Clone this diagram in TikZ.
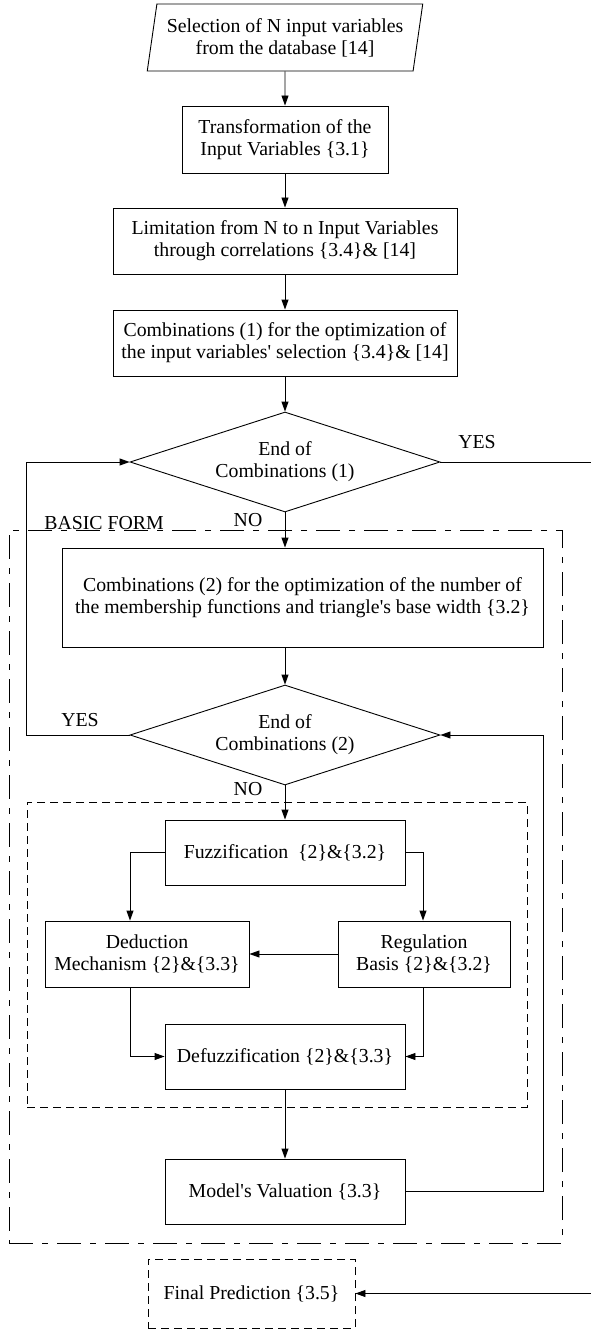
\documentclass[tikz,border=0pt]{standalone}
\usepackage{fontspec}
\setmainfont{Liberation Serif}
\usetikzlibrary{shapes.geometric,arrows.meta}

\begin{document}
\begin{tikzpicture}[x=1pt, y=-1pt, line width=0.9pt, >={Triangle[length=10pt,width=7pt]},
            every node/.style={font=\fontsize{19.8}{22}\selectfont},
            box/.style={rectangle, draw, align=center, inner sep=2pt},
            inbox/.style={trapezium, draw, align=center, trapezium left angle=78, trapezium right angle=102, trapezium stretches=true, inner sep=2pt},
            ask/.style={diamond, draw, align=center, aspect=3.1, minimum width=310, minimum height=100, inner sep=0pt},
            outbox/.style={rectangle, draw, align=center, dashed, dash pattern=on 8pt off 5pt},
            frameA/.style={rectangle, draw, dash pattern=on 24pt off 9pt on 6pt off 9pt, inner sep=0pt},
            frameB/.style={rectangle, draw, dash pattern=on 8pt off 5pt, inner sep=0pt}]

            \useasboundingbox (0,0) rectangle (591,1332);

            % frames
            \node[frameA, minimum width=553, minimum height=713] (basic) at (285.5,886.5) {};
            \node[frameB, minimum width=500, minimum height=305] (fuzzy) at (277,954.5) {};
            \node[anchor=base] (basiclbl) at (104,529) {BASIC FORM};

            \node[inbox, minimum width=276, minimum height=67] (sel) at (285,37.5) {Selection of N input variables\\from the database [14]};
            \node[box, minimum width=206, minimum height=67] (trans) at (285,139.5) {Transformation of the\\Input Variables \{3.1\}};
            \node[box, minimum width=344, minimum height=66] (lim) at (285,241) {Limitation from N to n Input Variables\\through correlations \{3.4\}\& [14]};
            \node[box, minimum width=344, minimum height=66] (comb1) at (285,343) {Combinations (1) for the optimization of\\the input variables\textquotesingle{} selection \{3.4\}\& [14]};
            \node[ask] (end1) at (285,462) {End of\\Combinations (1)};
            \node[box, minimum width=481, minimum height=99] (comb2) at (302.5,597.5) {Combinations (2) for the optimization of the number of\\the membership functions and triangle\textquotesingle{}s base width \{3.2\}};
            \node[ask] (end2) at (285,735) {End of\\Combinations (2)};
            \node[box, minimum width=240, minimum height=65] (fuzz) at (285,852.5) {Fuzzification\ \ \{2\}\&\{3.2\}};
            \node[box, minimum width=204, minimum height=66] (deduc) at (147,954) {Deduction\\Mechanism \{2\}\&\{3.3\}};
            \node[box, minimum width=172, minimum height=66] (regul) at (424,954) {Regulation\\Basis \{2\}\&\{3.2\}};
            \node[box, minimum width=240, minimum height=65] (defuz) at (285,1056.5) {Defuzzification \{2\}\&\{3.3\}};
            \node[box, minimum width=240, minimum height=65] (valid) at (285,1191.5) {Model\textquotesingle{}s Valuation \{3.3\}};
            \node[outbox, minimum width=207, minimum height=69] (final) at (251.5,1293.5) {Final Prediction \{3.5\}};

            \node (yes1) at (477,442) {YES};
            \node (no1) at (248,520) {NO};
            \node (yes2) at (80,720) {YES};
            \node (no2) at (248,789) {NO};

            \coordinate (loopL) at (26,0);
            \coordinate (colL) at (130,0);
            \coordinate (colR) at (423,0);
            \coordinate (loopR) at (543,0);
            \coordinate (edge) at (593,0);

            \draw[->] (sel.south) -- (trans.north);
            \draw[->] (trans) -- (lim);
            \draw[->] (lim) -- (comb1);
            \draw[->] (comb1) -- (end1);
            \draw[->] (end1.south) -- (end1.south |- comb2.north);
            \draw[->] (end1.south |- comb2.south) -- (end2.north);
            \draw[->] (end2.south) -- (fuzz.north);
            \draw[->] (end2.west) -| (loopL |- end1.west) -- (end1.west);
            \draw[->] (end1.east) -| (edge |- final.east) -- (final.east);

            \draw[->] (fuzz.west) -| (colL |- deduc.north);
            \draw[->] (fuzz.east) -| (colR |- regul.north);
            \draw[->] (regul) -- (deduc);
            \draw[->] (colL |- deduc.south) |- (defuz.west);
            \draw[->] (colR |- regul.south) |- (defuz.east);
            \draw[->] (defuz) -- (valid);
            \draw[->] (valid.east) -| (loopR |- end2.east) -- (end2.east);

        \end{tikzpicture}
\end{document}
